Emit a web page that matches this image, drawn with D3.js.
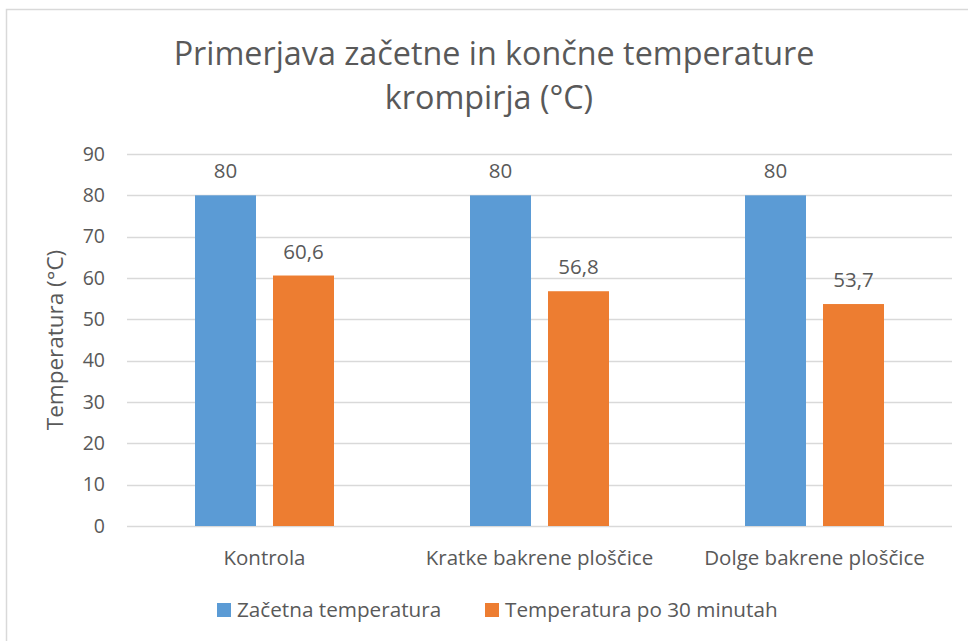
<!DOCTYPE html>
<html>
<head>
<meta charset="utf-8">
<script src="https://cdn.jsdelivr.net/npm/d3@7"></script>
<style>
  body { margin: 0; background: #fff; }
  text { font-family: "Open Sans", "Noto Sans", sans-serif; fill: #595959; }
</style>
</head>
<body>
<div id="chart"></div>
<script>
const categories = ["Kontrola", "Kratke bakrene ploščice", "Dolge bakrene ploščice"];
const seriesNames = ["Začetna temperatura", "Temperatura po 30 minutah"];
const startTemp = [80, 80, 80];
const endTemp = [60.6, 56.8, 53.7];
const yTicks = [0, 10, 20, 30, 40, 50, 60, 70, 80, 90];
const colors = ["#5B9BD5", "#ED7D31"];

let width = 968, height = 641;
let margin = {left: 127, right: 16, top: 154, bottom: 115};

let svg = d3.select("#chart").append("svg")
    .attr("width", width)
    .attr("height", height);

// chart area border (right and bottom edges fall outside the picture)
svg.append("rect")
    .attr("x", 6.5).attr("y", 9.5)
    .attr("width", width + 10).attr("height", height + 10)
    .attr("fill", "none")
    .attr("stroke", "#D9D9D9")
    .attr("stroke-width", 1.5);

let x = d3.scaleBand()
    .domain(categories)
    .range([margin.left, width - margin.right]);

let y = d3.scaleLinear()
    .domain([0, 90])
    .range([height - margin.bottom, margin.top]);

let inner = d3.scaleBand()
    .domain([0, 1])
    .range([0, x.bandwidth()])
    .paddingInner(0.218)
    .paddingOuter(0.872);

// gridlines
svg.append("g")
    .selectAll("line")
    .data(yTicks)
    .enter().append("line")
    .attr("x1", margin.left)
    .attr("x2", width - margin.right)
    .attr("y1", d => Math.round(y(d)) + 0.5)
    .attr("y2", d => Math.round(y(d)) + 0.5)
    .attr("stroke", "#D9D9D9")
    .attr("stroke-width", 1.4);

// y tick labels
svg.append("g")
    .selectAll("text")
    .data(yTicks)
    .enter().append("text")
    .attr("x", 105)
    .attr("y", d => y(d))
    .attr("dy", "0.35em")
    .attr("text-anchor", "end")
    .style("font-size", "19.5px")
    .text(d => d);

// bars
let rows = categories.map((c, i) => ({cat: c, vals: [startTemp[i], endTemp[i]]}));

let groups = svg.append("g")
    .selectAll("g")
    .data(rows)
    .enter().append("g")
    .attr("transform", d => "translate(" + x(d.cat) + ",0)");

groups.selectAll("rect")
    .data(d => d.vals.map((v, k) => ({k: k, v: v})))
    .enter().append("rect")
    .attr("x", d => inner(d.k))
    .attr("width", inner.bandwidth())
    .attr("y", d => y(d.v))
    .attr("height", d => y(0) - y(d.v))
    .attr("fill", d => colors[d.k]);

groups.selectAll(".label")
    .data(d => d.vals.map((v, k) => ({k: k, v: v})))
    .enter().append("text")
    .attr("class", "label")
    .attr("x", d => inner(d.k) + inner.bandwidth() / 2)
    .attr("y", d => y(d.v) - 17)
    .attr("text-anchor", "middle")
    .style("font-size", "20.5px")
    .text(d => String(d.v).replace(".", ","));

// category labels
svg.append("g")
    .selectAll("text")
    .data(categories)
    .enter().append("text")
    .attr("x", d => x(d) + x.bandwidth() / 2)
    .attr("y", 565)
    .attr("text-anchor", "middle")
    .style("font-size", "20.5px")
    .text(d => d);

// y axis title
svg.append("text")
    .attr("transform", "translate(63,340) rotate(-90)")
    .attr("text-anchor", "middle")
    .style("font-size", "22.5px")
    .text("Temperatura (°C)");

// title
let title = svg.append("text")
    .attr("text-anchor", "middle")
    .style("font-size", "32.3px");
title.append("tspan").attr("x", 494).attr("y", 65).text("Primerjava začetne in končne temperature");
title.append("tspan").attr("x", 489).attr("y", 109).text("krompirja (°C)");

// legend
let legX = [217, 485];
let legend = svg.append("g")
    .selectAll("g")
    .data(seriesNames)
    .enter().append("g")
    .attr("transform", (d, i) => "translate(" + legX[i] + ",603)");

legend.append("rect")
    .attr("width", 14).attr("height", 14)
    .attr("fill", (d, i) => colors[i]);

legend.append("text")
    .attr("x", 20)
    .attr("y", 14)
    .style("font-size", "20.7px")
    .text(d => d);
</script>
</body>
</html>
